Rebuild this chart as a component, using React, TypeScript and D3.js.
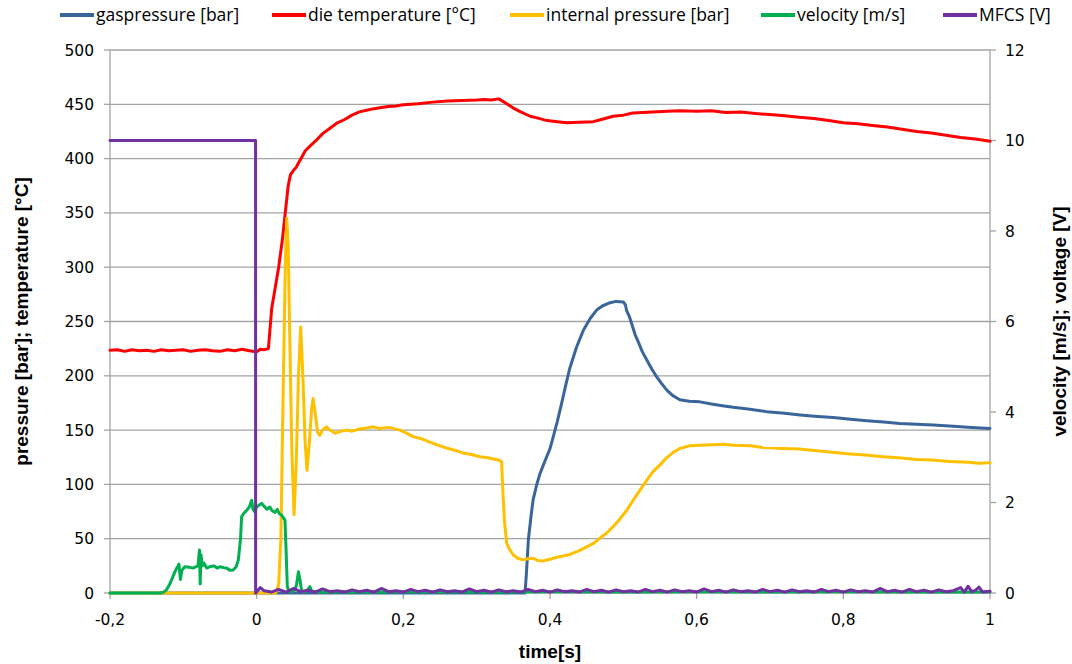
import React from 'react';
import * as d3 from 'd3';

type Pt = [number, number];

const xTicks = [-0.2, 0, 0.2, 0.4, 0.6, 0.8, 1];
const leftTicks = [0, 50, 100, 150, 200, 250, 300, 350, 400, 450, 500];
const rightTicks = [0, 2, 4, 6, 8, 10, 12];

// [time s, bar]
const gasPressure: Pt[] = [
  [-0.2, 0], [0.366, 0], [0.368, 20], [0.3705, 49], [0.374, 70], [0.377, 86], [0.382, 100], [0.3864, 110],
  [0.391, 118], [0.3955, 125.5], [0.4, 133], [0.4045, 144], [0.41, 158], [0.416, 175], [0.421, 190],
  [0.427, 207], [0.436, 226], [0.4455, 242], [0.455, 253], [0.4636, 260.5], [0.472, 264.5], [0.482, 267.3],
  [0.49, 268.5], [0.5, 268], [0.503, 265], [0.5045, 260], [0.508, 255], [0.5114, 248], [0.516, 238],
  [0.5205, 231], [0.526, 222], [0.532, 214.5], [0.539, 206], [0.5455, 199], [0.552, 193], [0.559, 187],
  [0.567, 182], [0.577, 178], [0.59, 176.5], [0.6045, 176], [0.62, 174], [0.635, 172.5], [0.65, 171],
  [0.67, 169.5], [0.6955, 167], [0.72, 165.5], [0.741, 164], [0.765, 162.5], [0.786, 161.5], [0.81, 160],
  [0.832, 158.7], [0.855, 157.5], [0.877, 156], [0.9, 155.5], [0.9225, 154.7], [0.95, 153.5], [0.975, 152.5],
  [1.0, 151.5],
];

// [time s, °C]
const dieTemperature: Pt[] = [
  [-0.2, 223.5], [-0.19, 224], [-0.18, 222.5], [-0.17, 224], [-0.16, 223], [-0.15, 223.5], [-0.14, 222.5],
  [-0.13, 224], [-0.12, 223], [-0.11, 223.5], [-0.1, 224], [-0.09, 222.5], [-0.08, 223.5], [-0.07, 224],
  [-0.06, 223], [-0.05, 222.5], [-0.04, 224], [-0.03, 223], [-0.02, 224.5], [-0.01, 223], [0, 222],
  [0.005, 224.5], [0.01, 224], [0.016, 225], [0.0205, 262], [0.025, 280], [0.03, 300], [0.035, 325],
  [0.039, 350], [0.043, 375], [0.046, 385], [0.05, 389], [0.054, 392], [0.057, 396], [0.062, 402],
  [0.066, 407], [0.072, 411], [0.08, 416], [0.09, 423], [0.1, 428], [0.11, 433], [0.12, 436], [0.13, 440],
  [0.14, 443], [0.15, 444.5], [0.16, 446], [0.17, 447], [0.18, 448], [0.19, 448.5], [0.2, 449.5],
  [0.22, 450.5], [0.24, 452], [0.26, 453], [0.28, 453.5], [0.3, 454], [0.31, 454.5], [0.32, 454],
  [0.33, 455], [0.34, 451], [0.35, 446.5], [0.36, 443], [0.373, 439], [0.385, 437], [0.396, 435],
  [0.41, 434], [0.423, 433], [0.44, 433.5], [0.459, 434], [0.47, 436], [0.486, 439], [0.5, 440],
  [0.513, 442], [0.54, 443], [0.56, 443.5], [0.577, 444], [0.6, 443.5], [0.62, 444], [0.64, 442.5],
  [0.66, 443], [0.68, 441.5], [0.7, 440.5], [0.72, 439.5], [0.74, 438], [0.76, 437], [0.78, 435],
  [0.8, 433], [0.82, 432], [0.84, 430.5], [0.86, 429], [0.88, 427], [0.9, 425], [0.92, 423.5],
  [0.94, 421.5], [0.96, 419.5], [0.98, 418], [1.0, 416],
];

// [time s, bar]
const internalPressure: Pt[] = [
  [-0.2, 0], [0.026, 0], [0.03, 8], [0.033, 50], [0.036, 180], [0.039, 300], [0.041, 345], [0.043, 320],
  [0.045, 240], [0.048, 130], [0.051, 72], [0.054, 120], [0.057, 200], [0.06, 245], [0.063, 200],
  [0.066, 140], [0.0686, 113], [0.072, 140], [0.075, 170], [0.077, 179], [0.08, 165], [0.083, 148],
  [0.086, 145], [0.09, 150], [0.095, 153], [0.1, 150], [0.107, 147], [0.115, 149], [0.123, 150],
  [0.13, 149], [0.14, 151], [0.15, 152], [0.159, 153], [0.168, 151.5], [0.18, 152.5], [0.1955, 150],
  [0.205, 147], [0.213, 144], [0.225, 142], [0.236, 139], [0.248, 136], [0.259, 133.5], [0.27, 131.5],
  [0.281, 129], [0.293, 127.5], [0.3045, 125.5], [0.315, 124.5], [0.3295, 122.5], [0.334, 121],
  [0.336, 90], [0.338, 65], [0.341, 46], [0.345, 40], [0.35, 35], [0.356, 32], [0.363, 30.5], [0.37, 31.5],
  [0.377, 32], [0.383, 30], [0.39, 29.5], [0.4, 31], [0.409, 33], [0.418, 34], [0.427, 35.5], [0.44, 39],
  [0.45, 42.5], [0.46, 46], [0.468, 50.5], [0.477, 55], [0.486, 61], [0.495, 68], [0.5045, 76], [0.513, 85],
  [0.523, 95], [0.532, 104], [0.5405, 111.7], [0.55, 118], [0.559, 124.5], [0.568, 129.5], [0.577, 133],
  [0.59, 135.5], [0.6045, 136], [0.62, 136.5], [0.636, 137], [0.65, 136], [0.673, 135.5], [0.69, 134],
  [0.718, 133], [0.74, 132.5], [0.764, 131], [0.785, 129.5], [0.809, 128], [0.83, 127], [0.854, 125.5],
  [0.875, 124.5], [0.9, 123], [0.92, 122.5], [0.9455, 121], [0.97, 120.5], [0.985, 119.5], [1.0, 120],
];

// [time s, m/s]  (right axis)
const velocity: Pt[] = [
  [-0.2, 0], [-0.132, 0], [-0.127, 0.02], [-0.123, 0.07], [-0.119, 0.18], [-0.116, 0.29], [-0.112, 0.45],
  [-0.109, 0.55], [-0.107, 0.6], [-0.106, 0.64], [-0.104, 0.3], [-0.102, 0.5], [-0.098, 0.58],
  [-0.092, 0.57], [-0.087, 0.55], [-0.08, 0.6], [-0.078, 0.95], [-0.077, 0.2], [-0.076, 0.85],
  [-0.074, 0.6], [-0.072, 0.66], [-0.068, 0.55], [-0.064, 0.58], [-0.058, 0.6], [-0.054, 0.55],
  [-0.05, 0.58], [-0.045, 0.56], [-0.041, 0.55], [-0.036, 0.5], [-0.032, 0.51], [-0.028, 0.58],
  [-0.025, 0.73], [-0.022, 1.2], [-0.0205, 1.69], [-0.018, 1.75], [-0.0136, 1.83], [-0.01, 1.9],
  [-0.0068, 2.05], [-0.005, 1.85], [-0.003, 1.8], [0.0, 1.9], [0.004, 1.95], [0.0068, 1.98], [0.01, 1.92],
  [0.014, 1.85], [0.018, 1.9], [0.0205, 1.83], [0.025, 1.78], [0.028, 1.85], [0.031, 1.75], [0.034, 1.72],
  [0.0386, 1.61], [0.04, 1.0], [0.0418, 0.14], [0.044, 0.04], [0.05, 0.04], [0.054, 0.15], [0.057, 0.47],
  [0.059, 0.3], [0.0614, 0.04], [0.068, 0.04], [0.0727, 0.14], [0.075, 0.04], [0.085, 0.02], [0.1, 0.03],
  [0.15, 0.02], [0.2, 0.03], [0.3, 0.02], [0.4, 0.03], [0.5, 0.02], [0.6, 0.03], [0.7, 0.02], [0.8, 0.03],
  [0.9, 0.02], [1.0, 0.02],
];

// [time s, V]  (right axis)
const mfcs: Pt[] = [
  [-0.2, 10], [-0.0015, 10], [-0.0014, 0], [0.005, 0.12], [0.01, 0.05], [0.02, 0.02], [0.03, 0.08],
  [0.04, 0.02], [0.05, 0.1], [0.06, 0.03], [0.07, 0.06], [0.08, 0.02], [0.09, 0.09], [0.1, 0.03],
  [0.11, 0.05], [0.12, 0.02], [0.13, 0.07], [0.14, 0.03], [0.15, 0.06], [0.16, 0.02], [0.17, 0.1],
  [0.18, 0.03], [0.19, 0.05], [0.2, 0.02], [0.21, 0.08], [0.22, 0.03], [0.23, 0.06], [0.24, 0.02],
  [0.25, 0.07], [0.26, 0.03], [0.27, 0.05], [0.28, 0.02], [0.29, 0.09], [0.3, 0.03], [0.31, 0.06],
  [0.32, 0.02], [0.33, 0.07], [0.34, 0.03], [0.35, 0.05], [0.36, 0.02], [0.37, 0.08], [0.38, 0.03],
  [0.39, 0.06], [0.4, 0.02], [0.41, 0.07], [0.42, 0.03], [0.43, 0.05], [0.44, 0.02], [0.45, 0.08],
  [0.46, 0.03], [0.47, 0.06], [0.48, 0.02], [0.49, 0.07], [0.5, 0.03], [0.51, 0.05], [0.52, 0.02],
  [0.53, 0.08], [0.54, 0.03], [0.55, 0.06], [0.56, 0.02], [0.57, 0.07], [0.58, 0.03], [0.59, 0.05],
  [0.6, 0.02], [0.61, 0.09], [0.62, 0.03], [0.63, 0.06], [0.64, 0.02], [0.65, 0.07], [0.66, 0.03],
  [0.67, 0.05], [0.68, 0.02], [0.69, 0.08], [0.7, 0.03], [0.71, 0.06], [0.72, 0.02], [0.73, 0.07],
  [0.74, 0.03], [0.75, 0.05], [0.76, 0.02], [0.77, 0.08], [0.78, 0.03], [0.79, 0.06], [0.8, 0.02],
  [0.81, 0.07], [0.82, 0.03], [0.83, 0.05], [0.84, 0.02], [0.85, 0.1], [0.86, 0.03], [0.87, 0.06],
  [0.88, 0.02], [0.89, 0.08], [0.9, 0.03], [0.91, 0.06], [0.92, 0.02], [0.93, 0.07], [0.94, 0.03],
  [0.95, 0.05], [0.96, 0.12], [0.965, 0.02], [0.97, 0.15], [0.975, 0.03], [0.98, 0.06], [0.985, 0.13],
  [0.99, 0.02], [1.0, 0.04],
];

const series = [
  { name: 'gaspressure [bar]', data: gasPressure, color: '#3A659B', axis: 'left', lx: 60 },
  { name: 'die temperature [°C]', data: dieTemperature, color: '#FF0000', axis: 'left', lx: 272 },
  { name: 'internal pressure [bar]', data: internalPressure, color: '#FFC000', axis: 'left', lx: 510 },
  { name: 'velocity [m/s]', data: velocity, color: '#00B050', axis: 'right', lx: 761 },
  { name: 'MFCS [V]', data: mfcs, color: '#7030A0', axis: 'right', lx: 943 },
];

const W = 1072;
const H = 664;
const m = { left: 110, right: 82, top: 50, bottom: 71 };

export default function App() {
  const x = d3.scaleLinear().domain([-0.2, 1]).range([m.left, W - m.right]);
  const yL = d3.scaleLinear().domain([0, 500]).range([H - m.bottom, m.top]);
  const yR = d3.scaleLinear().domain([0, 12]).range([H - m.bottom, m.top]);
  const tickFont = '"DejaVu Sans", Verdana, sans-serif';
  const titleFont = '"Liberation Sans", Arial, sans-serif';
  const x0 = x(-0.2);
  const x1 = x(1);
  const yb = yL(0);
  const gray = '#a3a3a3';

  return (
    <svg width={W} height={H} style={{ position: 'absolute', left: 0, top: 0, background: '#fff' }}>
      {/* gridlines */}
      {leftTicks.slice(1).map((t) => (
        <line key={'g' + t} x1={x0} x2={x1} y1={yL(t)} y2={yL(t)} stroke={gray} strokeWidth={1.3} />
      ))}
      {/* axes */}
      <line x1={x0} x2={x0} y1={yL(500)} y2={yb} stroke={gray} strokeWidth={1.3} />
      <line x1={x1} x2={x1} y1={yR(12)} y2={yb} stroke={gray} strokeWidth={1.3} />
      <line x1={x0} x2={x1} y1={yb} y2={yb} stroke={gray} strokeWidth={1.3} />
      {leftTicks.map((t) => (
        <g key={'l' + t}>
          <line x1={x0 - 6} x2={x0} y1={yL(t)} y2={yL(t)} stroke={gray} strokeWidth={1.3} />
          <text x={94} y={yL(t)} dy="0.36em" textAnchor="end" fontFamily={tickFont} fontSize={15.5} fill="#000">
            {t}
          </text>
        </g>
      ))}
      {rightTicks.map((t) => (
        <g key={'r' + t}>
          <line x1={x1} x2={x1 + 6} y1={yR(t)} y2={yR(t)} stroke={gray} strokeWidth={1.3} />
          <text x={1005} y={yR(t)} dy="0.36em" textAnchor="start" fontFamily={tickFont} fontSize={15.5} fill="#000">
            {t}
          </text>
        </g>
      ))}
      {xTicks.map((t) => (
        <g key={'x' + t}>
          <line x1={x(t)} x2={x(t)} y1={yb} y2={yb + 6} stroke={gray} strokeWidth={1.3} />
          <text x={x(t)} y={625} textAnchor="middle" fontFamily={tickFont} fontSize={15.5} fill="#000">
            {String(t).replace('.', ',')}
          </text>
        </g>
      ))}

      {/* series */}
      {series.map((s) => {
        const yy = s.axis === 'left' ? yL : yR;
        const line = d3.line<Pt>().x((d) => x(d[0])).y((d) => yy(d[1]));
        return (
          <path key={s.name} d={line(s.data) || ''} fill="none" stroke={s.color} strokeWidth={3}
            strokeLinejoin="round" strokeLinecap="round" />
        );
      })}

      {/* axis titles */}
      <text x={550} y={658} textAnchor="middle" fontFamily={titleFont} fontWeight="bold" fontSize={19}>
        time[s]
      </text>
      <text transform={`translate(28,${(yL(500) + yb) / 2}) rotate(-90)`} textAnchor="middle"
        fontFamily={titleFont} fontWeight="bold" fontSize={19}>
        pressure [bar]; temperature [°C]
      </text>
      <text transform={`translate(1066,${(yR(12) + yb) / 2}) rotate(-90)`} textAnchor="middle"
        fontFamily={titleFont} fontWeight="bold" fontSize={19}>
        velocity [m/s]; voltage [V]
      </text>

      {/* legend */}
      {series.map((s) => (
        <g key={'lg' + s.name} transform={`translate(${s.lx},15)`}>
          <line x1={0} x2={34} y1={0} y2={0} stroke={s.color} strokeWidth={4} />
          <text x={36} y={0} dy="0.35em" fontFamily='"Open Sans", sans-serif' fontSize={17.5} fill="#000">
            {s.name}
          </text>
        </g>
      ))}
    </svg>
  );
}
